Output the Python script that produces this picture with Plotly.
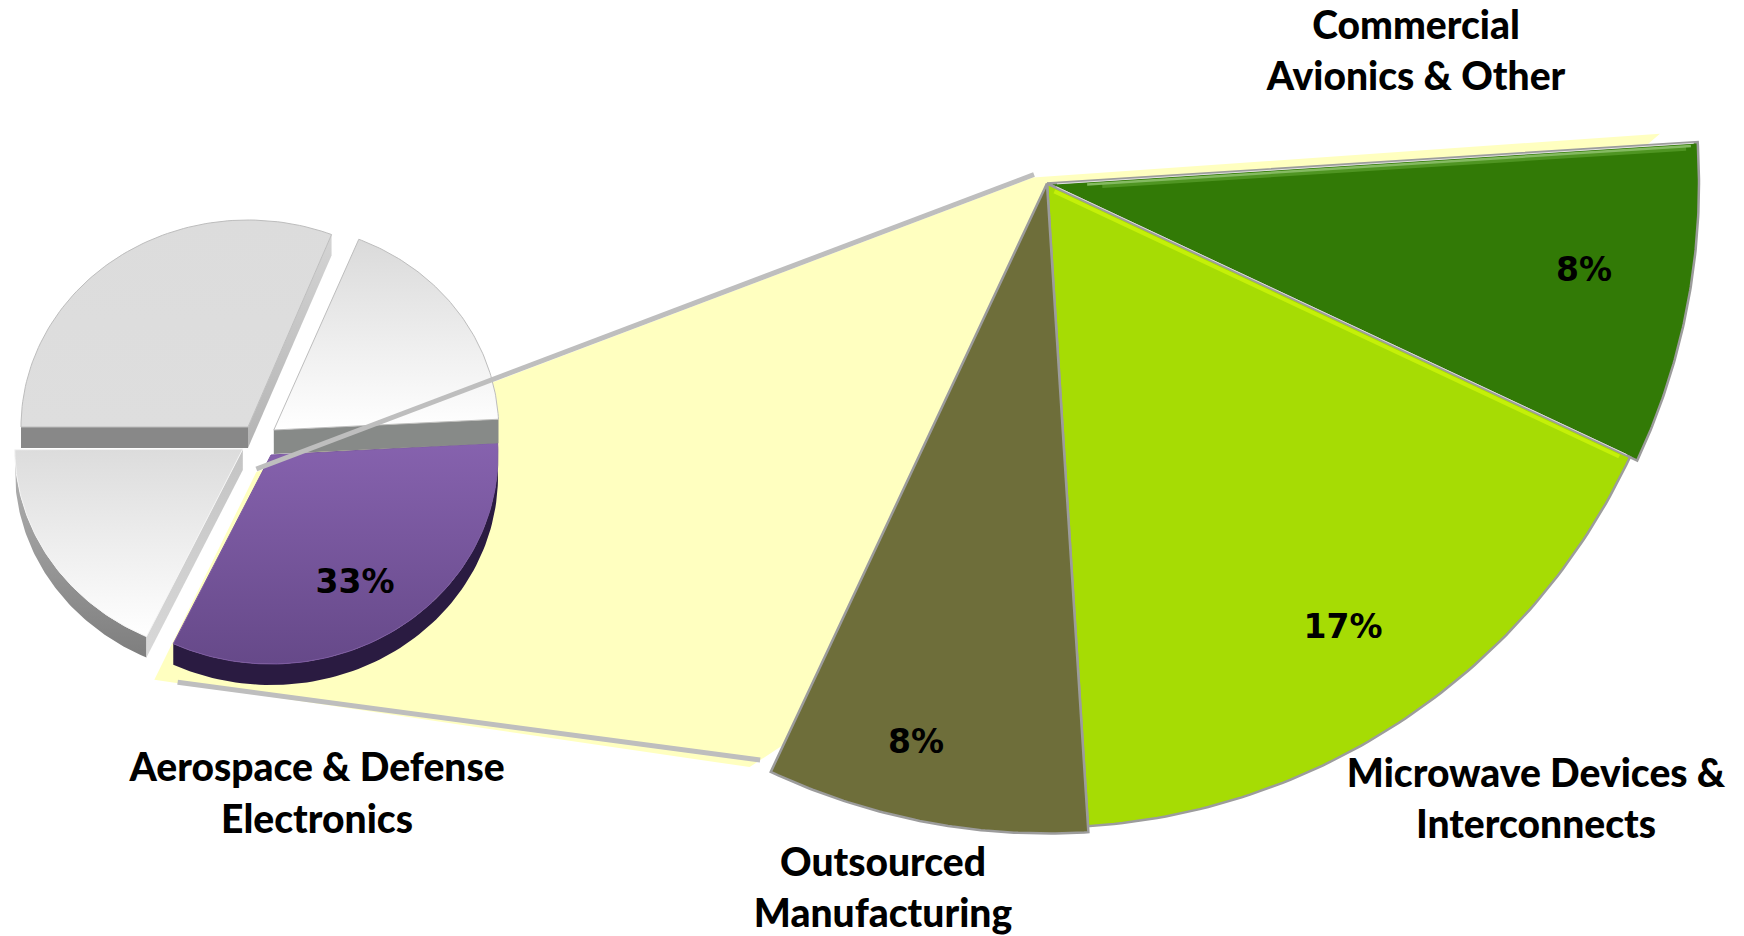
import numpy as np
import plotly.graph_objects as go

# ---- data ----
detail_names = ["Commercial Avionics & Other", "Microwave Devices & Interconnects", "Outsourced Manufacturing"]
detail_values = [8, 17, 8]
detail_colors = ["#327A06", "#A6DC04", "#6E6E3A"]
overview_names = ["Aerospace & Defense Electronics", "Other A", "Other B", "Other C"]
overview_values = [33, 18, 31, 18]

label_lines = ["Commercial", "Avionics & Other", "Microwave Devices &", "Interconnects",
               "Outsourced", "Manufacturing", "Aerospace & Defense", "Electronics"]
label_x = [1416, 1416, 1536, 1536, 883, 883, 317, 317]
label_y = [29, 80, 777, 828, 866, 917, 771, 823]

pct_x = [1584, 1343, 916, 355]
pct_y = [273, 630, 745, 585]
pct_values = detail_values + overview_values[:1]

# ---- layout of the drawing (pixel space axes) ----
W, H = 1744, 936
DC = (1047.0, 183.5)
DR = 650.0
D_RADII = [652, 644, 650]
D_START = -3.65
OV_CENTER = [(271.0, 455.0), (242.8, 449.0), (248.0, 427.0), (273.8, 430.0)]
OV_RX = [227, 228, 227, 225]
OV_RY = [209, 207, 207, 206]
OV_START = [-3.3, 115.0, 180.0, 292.2]
DEPTH = 21


def pol(c, rx, ry, deg):
    a = np.radians(deg)
    return c[0] + rx * np.cos(a), c[1] + ry * np.sin(a)


def arc(c, rx, ry, a0, a1, n=80):
    t = np.linspace(a0, a1, n)
    return pol(c, rx, ry, t)


def sweep(v):
    return v * 3.6


fig = go.Figure()


def poly(x, y, fill=None, grad=None, line=None, lw=0):
    kw = dict(x=list(x), y=list(y), mode="lines", fill="toself", hoverinfo="skip", showlegend=False,
              line=dict(color=line or "rgba(0,0,0,0)", width=lw))
    if grad:
        # colours are given top first; the y axis is reversed
        kw["fillgradient"] = dict(type="vertical", colorscale=[[0, grad[1]], [1, grad[0]]])
    else:
        kw["fillcolor"] = fill
    fig.add_trace(go.Scatter(**kw))


def stroke(p, q, color, w):
    fig.add_trace(go.Scatter(x=[p[0], q[0]], y=[p[1], q[1]], mode="lines", hoverinfo="skip", showlegend=False,
                             line=dict(color=color, width=w)))


def extrude_edge(p, q, fill=None, grad=None, depth=DEPTH):
    poly([p[0], q[0], q[0], p[0]], [p[1], q[1], q[1] + depth, p[1] + depth], fill=fill, grad=grad)


def extrude_arc(c, rx, ry, a0, a1, fill=None, grad=None):
    ax, ay = arc(c, rx, ry, a0, a1)
    poly(np.r_[ax, ax[::-1]], np.r_[ay, ay[::-1] + DEPTH], fill=fill, grad=grad)


def wedge(c, rx, ry, a0, a1, fill=None, grad=None, line=None, lw=0):
    ax, ay = arc(c, rx, ry, a0, a1)
    poly(np.r_[c[0], ax, c[0]], np.r_[c[1], ay, c[1]], fill=fill, grad=grad, line=line, lw=lw)


def rim(ang, offset, r0, r1, color, w):
    """A line parallel to the radial edge at angle ang, moved offset px clockwise."""
    n = (offset * np.cos(np.radians(ang + 90)), offset * np.sin(np.radians(ang + 90)))
    p = pol(DC, r0, r0, ang)
    q = pol(DC, r1, r1, ang)
    stroke((p[0] + n[0], p[1] + n[1]), (q[0] + n[0], q[1] + n[1]), color, w)


# pale yellow band joining the overview slice to the detail wedge
d_total_end = D_START + sweep(sum(detail_values))
ov_a0, ov_a1 = OV_START[0], OV_START[0] + sweep(overview_values[0])
conn_start = pol(OV_CENTER[0], 34, 15.5, ov_a1)
yb_start = pol(OV_CENTER[0], 271, 249, ov_a1)
y_top = pol(DC, 615, 615, D_START - 1.0)
y_top2 = pol(DC, 602, 602, D_START - 0.1)
y_bot = pol(DC, 620, 620, d_total_end)
y_bot2 = pol(DC, 655, 655, d_total_end + 1.85)
poly([conn_start[0], DC[0] - 14, y_top[0], y_top2[0], DC[0], y_bot[0], y_bot2[0], yb_start[0], conn_start[0]],
     [conn_start[1] + 3, DC[1] - 6, y_top[1], y_top2[1], DC[1], y_bot[1], y_bot2[1], yb_start[1], conn_start[1] + 3],
     fill="#FFFFC0")

# connector lower (below the pie)
bot_start = pol(OV_CENTER[0], 244, 246, ov_a1 - 3)
bot_end = pol(DC, DR - 6, DR - 6, d_total_end + 1.3)
stroke(bot_start, bot_end, "#BEBEBE", 5)

# ---- overview pie ----
ends = [OV_START[i] + sweep(overview_values[i]) for i in range(4)]

# bottom-left slice
c = OV_CENTER[1]
extrude_arc(c, OV_RX[1], OV_RY[1], OV_START[1], ends[1], grad=("#B4B4B4", "#7E7E7E"))
extrude_edge(pol(c, OV_RX[1], OV_RY[1], OV_START[1]), c, grad=("#C4C4C4", "#D8D8D8"))
wedge(c, OV_RX[1], OV_RY[1], OV_START[1], ends[1], grad=("#DCDCDC", "#FFFFFF"), line="#F4F4F4", lw=1)

# purple slice
c = OV_CENTER[0]
extrude_arc(c, OV_RX[0], OV_RY[0], ov_a0, ov_a1, fill="#2A1B41")
wedge(c, OV_RX[0], OV_RY[0], ov_a0, ov_a1, grad=("#8662AE", "#664989"), line="#7C5AA2", lw=1)

# top-left slice
c = OV_CENTER[2]
extrude_edge(pol(c, OV_RX[2], OV_RY[2], ends[2]), c, grad=("#D4D4D4", "#B4B4B4"))
extrude_edge(pol(c, OV_RX[2], OV_RY[2], OV_START[2]), c, fill="#888888")
wedge(c, OV_RX[2], OV_RY[2], OV_START[2], ends[2], grad=("#DCDCDC", "#DEDEDE"), line="#BDBDBD", lw=1)

# top-right slice
c = OV_CENTER[3]
extrude_edge(pol(c, OV_RX[3], OV_RY[3], ends[3]), c, fill="#878A88", depth=24)
wedge(c, OV_RX[3], OV_RY[3], OV_START[3], ends[3], grad=("#DADADA", "#FFFFFF"), line="#BDBDBD", lw=1)

# connector upper (crosses the top-right slice)
stroke(conn_start, (DC[0] - 13, DC[1] - 9), "#BEBEBE", 5)

# ---- detail wedge ----
a = D_START
for v, col, r in zip(detail_values, detail_colors, D_RADII):
    wedge(DC, r, r, a, a + sweep(v), fill=col, line="#9C9C9C", lw=2.5)
    a += sweep(v)

# lit rims along the straight edges
a0 = D_START
a1 = D_START + sweep(detail_values[0])
rim(a0, 6, 55, 640, "#4F9522", 4)
rim(a0, 3.5, 40, 645, "#85BA62", 2.5)
rim(a0, 1, 10, 648, "#E2E2E2", 1)
rim(a1, 4, 10, 634, "#C4F008", 4)
rim(a1, -1, 10, 640, "#DADADA", 1)

# ---- text ----
fig.add_trace(go.Scatter(x=label_x, y=label_y, mode="text", text=label_lines, textposition="middle center",
                         hoverinfo="skip", showlegend=False,
                         textfont=dict(family="Lato", size=39, color="#000000", weight=900)))
fig.add_trace(go.Scatter(x=pct_x, y=pct_y, mode="text", text=[f"{v}%" for v in pct_values],
                         textposition="middle center", hoverinfo="skip", showlegend=False,
                         textfont=dict(family="DejaVu Sans", size=33, color="#000000", weight="bold")))

fig.update_layout(width=W, height=H, margin=dict(l=0, r=0, t=0, b=0), paper_bgcolor="white", plot_bgcolor="white",
                  xaxis=dict(range=[0, W], visible=False, fixedrange=True),
                  yaxis=dict(range=[H, 0], visible=False, fixedrange=True))

fig.write_html("out.html", config={"displayModeBar": False},
               post_script="document.body.style.margin='0';document.body.style.overflow='hidden';")
